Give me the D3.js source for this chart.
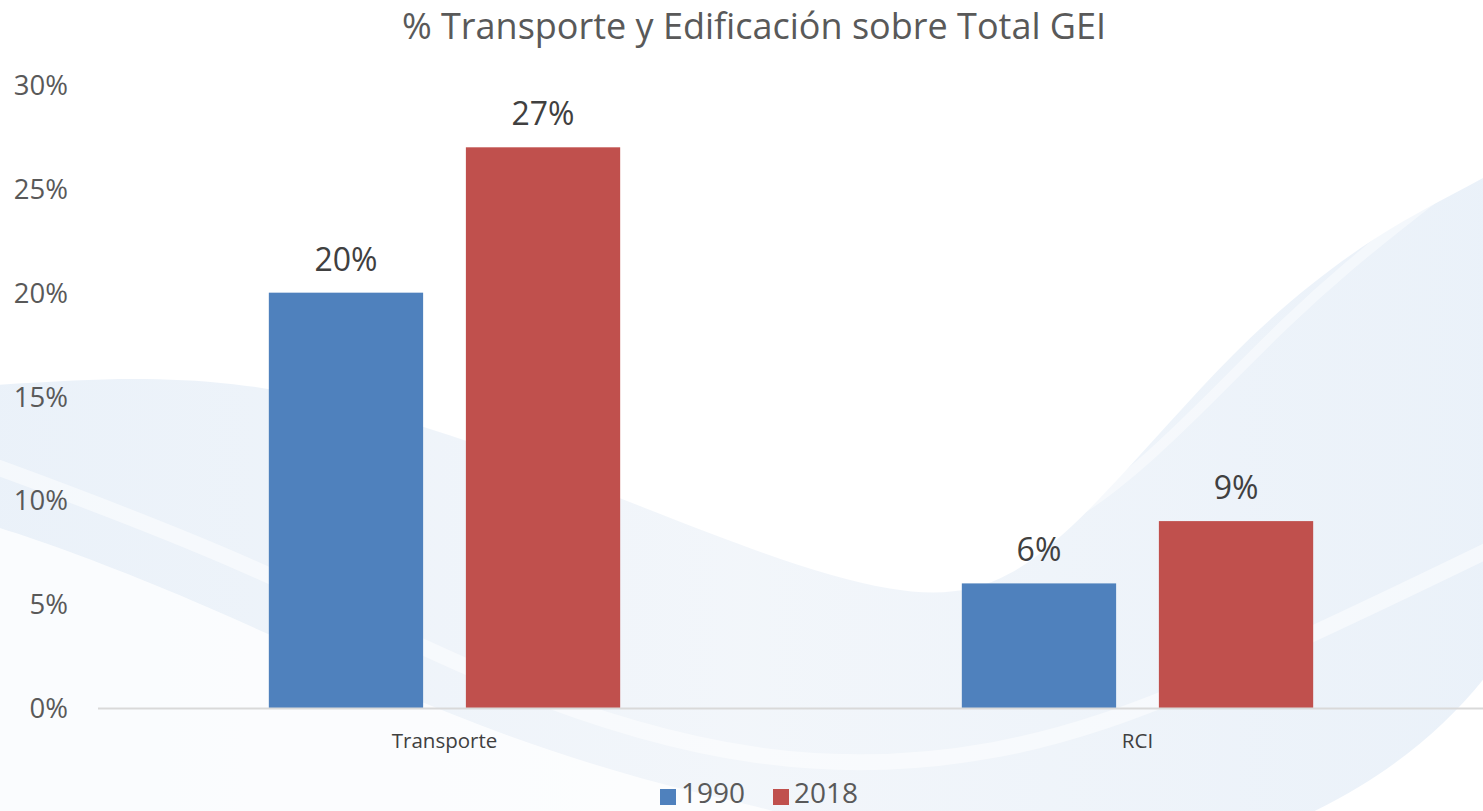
<!DOCTYPE html>
<html>
<head>
<meta charset="utf-8">
<script src="https://cdn.jsdelivr.net/npm/d3@7"></script>
<style>
  body { margin: 0; background: #fff; }
  svg text { font-family: "Open Sans", "Noto Sans", sans-serif; }
</style>
</head>
<body>
<svg id="chart" width="1483" height="811"></svg>
<script>
var categories = ["Transporte", "RCI"];
var series = ["1990", "2018"];
var values_1990 = [0.20, 0.06];
var values_2018 = [0.27, 0.09];
var yTicks = [0, 0.05, 0.10, 0.15, 0.20, 0.25, 0.30];
var colors = ["#4f81bd", "#c0504d"];

var svg = d3.select("#chart");
var margin = {top: 85, right: 0, bottom: 102, left: 98},
    width = 1483 - margin.left + 1,
    height = 811 - margin.top - margin.bottom - 1;

/* soft wave background (decoration only) */
var defs = svg.append("defs");
var grad = defs.append("linearGradient").attr("id", "wave").attr("x1", 0).attr("y1", 0).attr("x2", 1).attr("y2", 0);
grad.append("stop").attr("offset", "0%").attr("stop-color", "#e2ecf7");
grad.append("stop").attr("offset", "50%").attr("stop-color", "#eef3f9");
grad.append("stop").attr("offset", "100%").attr("stop-color", "#e2ecf7");

var bg = svg.append("g").attr("class", "bg");
var waveLine = d3.line().curve(d3.curveBasis);
bg.append("path")
    .attr("d", waveLine([[-100, 390], [0, 385], [230, 370], [480, 440], [720, 540], [900, 600], [1010, 590], [1120, 480], [1250, 330], [1380, 230], [1483, 180], [1600, 110], [1600, 950], [-100, 950]]))
    .style("fill", "url(#wave)").style("opacity", 0.75);
bg.append("path")
    .attr("d", waveLine([[-100, 500], [0, 525], [200, 600], [450, 720], [700, 800], [950, 840], [-100, 950]]))
    .style("fill", "#ffffff").style("opacity", 0.75);
bg.append("path")
    .attr("d", waveLine([[-50, 450], [250, 560], [500, 690], [760, 770], [1000, 760], [1200, 690], [1550, 520]]))
    .style("fill", "none").style("stroke", "#ffffff").style("stroke-width", 16).style("opacity", 0.5);
bg.append("path")
    .attr("d", waveLine([[650, 430], [820, 525], [950, 565], [1080, 525], [1220, 390], [1330, 275], [1550, 110]]))
    .style("fill", "none").style("stroke", "#ffffff").style("stroke-width", 10).style("opacity", 0.45);

var g = svg.append("g").attr("transform", `translate(${margin.left}, ${margin.top})`);

var x0 = d3.scaleBand().domain(categories).range([0, width]).paddingInner(0).paddingOuter(0);
var bw = x0.bandwidth();
var x1 = d3.scaleBand().domain(series).range([bw * 0.2465, bw * 0.7535]).paddingInner(0.217);
var y = d3.scaleLinear().domain([0, 0.30]).range([height, 0]);

/* y tick labels (no axis line) */
svg.selectAll(".ytick")
    .data(yTicks)
    .enter().append("text")
    .attr("class", "ytick")
    .attr("x", 68)
    .attr("y", function(d) { return margin.top + y(d) + 10; })
    .style("text-anchor", "end")
    .style("font-size", "27.5px")
    .style("fill", "#595959")
    .text(function(d) { return d3.format(".0%")(d); });

/* bars */
var data = categories.map(function(c, i) {
    return {cat: c, vals: [{s: series[0], v: values_1990[i], k: 0}, {s: series[1], v: values_2018[i], k: 1}]};
});

var groups = g.selectAll(".cat")
    .data(data)
    .enter().append("g")
    .attr("transform", function(d) { return `translate(${x0(d.cat)}, 0)`; });

groups.selectAll("rect")
    .data(function(d) { return d.vals; })
    .enter().append("rect")
    .attr("x", function(d) { return x1(d.s); })
    .attr("width", x1.bandwidth())
    .attr("y", function(d) { return y(d.v); })
    .attr("height", function(d) { return height - y(d.v); })
    .style("fill", function(d) { return colors[d.k]; });

groups.selectAll(".lbl")
    .data(function(d) { return d.vals; })
    .enter().append("text")
    .attr("class", "lbl")
    .attr("x", function(d) { return x1(d.s) + x1.bandwidth() / 2; })
    .attr("y", function(d) { return y(d.v) - 22; })
    .style("text-anchor", "middle")
    .style("font-size", "32px")
    .style("fill", "#404040")
    .text(function(d) { return d3.format(".0%")(d.v); });

/* baseline */
g.append("line")
    .attr("x1", 0).attr("x2", width)
    .attr("y1", height + 0.5).attr("y2", height + 0.5)
    .style("stroke", "#d9d9d9").style("stroke-width", 2);

/* category labels */
g.selectAll(".cat-label")
    .data(categories)
    .enter().append("text")
    .attr("class", "cat-label")
    .attr("x", function(d) { return x0(d) + bw / 2; })
    .attr("y", height + 40)
    .style("text-anchor", "middle")
    .style("font-size", "20.5px")
    .style("fill", "#404040")
    .text(function(d) { return d; });

/* title */
svg.append("text")
    .attr("x", 754)
    .attr("y", 39)
    .style("text-anchor", "middle")
    .style("font-size", "36px")
    .style("fill", "#595959")
    .text("% Transporte y Edificación sobre Total GEI");

/* legend */
var legend = svg.append("g").attr("transform", "translate(660, 789)");
var legItems = legend.selectAll(".leg")
    .data(series)
    .enter().append("g")
    .attr("transform", function(d, i) { return `translate(${i * 113}, 0)`; });
legItems.append("rect")
    .attr("width", 16).attr("height", 16).attr("y", 0)
    .style("fill", function(d, i) { return colors[i]; });
legItems.append("text")
    .attr("x", 21).attr("y", 14)
    .style("font-size", "28px")
    .style("fill", "#595959")
    .text(function(d) { return d; });
</script>
</body>
</html>
